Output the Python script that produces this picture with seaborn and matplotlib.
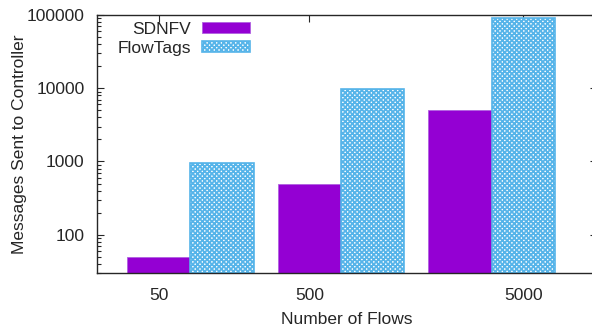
import pandas as pd
import seaborn as sns
import matplotlib
matplotlib.use('Agg')
import matplotlib.pyplot as plt
from matplotlib.ticker import LogLocator, NullFormatter

# dados
fluxos = ['50', '500', '5000']
sdnfv = [50, 500, 5000]
flowtags = [950, 9800, 90000]
sistemas = ['SDNFV', 'FlowTags']
rotulos_y = ['100', '1000', '10000', '100000']

df = pd.DataFrame({
    'fluxos': fluxos * 2,
    'mensagens': sdnfv + flowtags,
    'sistema': [sistemas[0]] * 3 + [sistemas[1]] * 3,
})

sns.set_style('ticks')
plt.rcParams['font.family'] = ['Liberation Sans', 'DejaVu Sans']
plt.rcParams['hatch.linewidth'] = 1.3

fig = plt.figure(figsize=(5.92, 3.26), dpi=100)
ax = fig.add_axes([97 / 592, 53 / 326, 500 / 592, 258 / 326])

sns.barplot(data=df, x='fluxos', y='mensagens', hue='sistema', order=fluxos,
            hue_order=sistemas, palette=['#9400d3', '#ffffff'], width=0.84,
            saturation=1, legend=False, ax=ax)

for barra in ax.containers[0].patches:
    barra.set_edgecolor('#b060e0')
    barra.set_linewidth(0.6)
for barra in ax.containers[1].patches:
    barra.set_facecolor('#ffffff')
    barra.set_edgecolor('#56b4e9')
    barra.set_hatch('xxxxxxx')
    barra.set_linewidth(1.2)

ax.set_yscale('log')
ax.set_ylim(30, 100000)
ax.set_xlim(-0.62, 2.70)
ax.set_yticks([100, 1000, 10000, 100000], rotulos_y)
ax.yaxis.set_minor_locator(LogLocator(base=10, subs=range(2, 10)))
ax.yaxis.set_minor_formatter(NullFormatter())
ax.set_xticks([-0.21, 0.79, 2.21], fluxos)

ax.tick_params(axis='both', which='both', direction='in', top=True, right=True,
               labelsize=12.5, width=0.8)
ax.tick_params(axis='y', which='major', length=5, pad=9)
ax.tick_params(axis='y', which='minor', length=3)
ax.tick_params(axis='x', which='major', length=5, pad=11)
for lado in ax.spines.values():
    lado.set_linewidth(1.0)

ax.set_xlabel('Number of Flows', fontsize=12.5, labelpad=6)
ax.set_ylabel('Messages Sent to Controller', fontsize=12.5, labelpad=0)

ax.legend(ax.containers, sistemas, loc='upper right', bbox_to_anchor=(0.310, 0.98),
          frameon=False, markerfirst=False, fontsize=12.5, handlelength=2.8,
          handleheight=0.6, handletextpad=0.6, labelspacing=0.22,
          borderpad=0.1, borderaxespad=0)

plt.savefig('out.png', dpi=100)
